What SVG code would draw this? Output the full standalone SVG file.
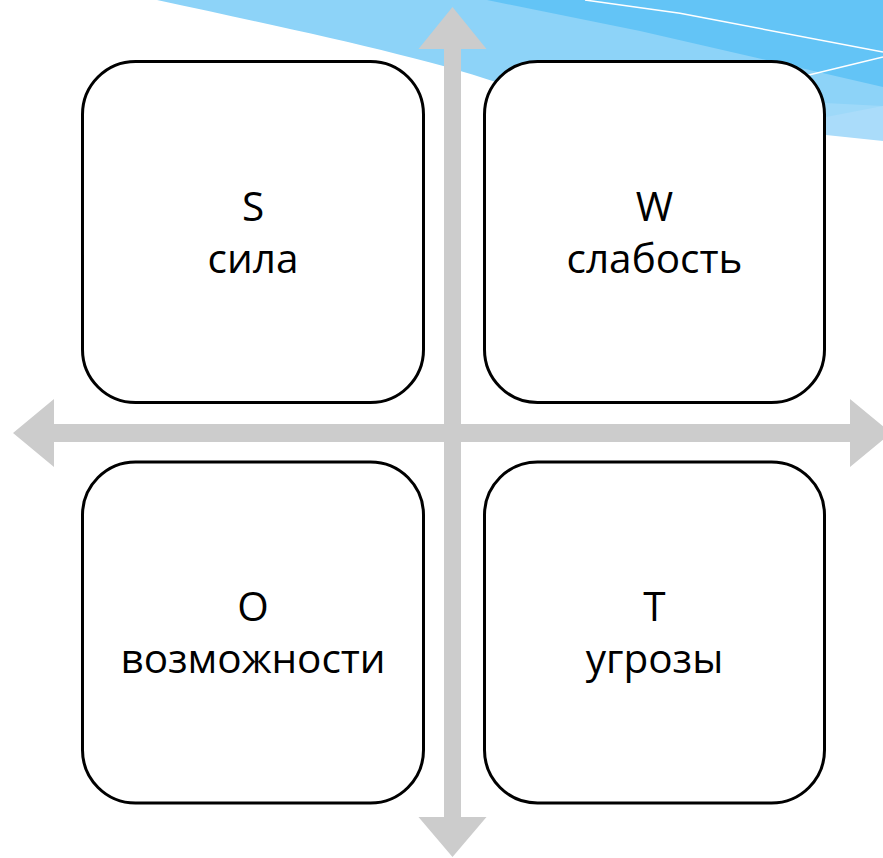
<svg xmlns="http://www.w3.org/2000/svg" width="883" height="858" viewBox="0 0 883 858">
<style>
.box{fill:#ffffff;stroke:#000000;stroke-width:3}
.lbl{font-family:"Open Sans","Noto Sans","DejaVu Sans",sans-serif;font-size:40.5px;fill:#000000;text-anchor:middle}
.arrow{fill:#cccccc}
.wl{fill:none;stroke:#ffffff;stroke-width:1.5}
</style>
<g id="background">
<path d="M700,0 L883,0 L883,141 L826,135 L700,110 Z" fill="#aadcfa"/>
<path d="M600,0 L883,0 L883,106 L826,117 L700,110 Z" fill="#9ed9f9"/>
<path d="M157,0 C300,31 430,58 510,87 L883,106 L883,0 Z" fill="#8dd3f8"/>
<path d="M487,0 L640,31 L883,87 L883,0 Z" fill="#63c4f6"/>
<path class="wl" d="M585,0 L680,13.3 L883,52"/>
<path class="wl" d="M780,82 L883,57"/>
</g>
<g id="connectors">
<path class="arrow" d="M452.5,7 L486.5,49 L461,49 L461,817 L486.5,817 L452.5,857 L418.5,817 L444,817 L444,49 L418.5,49 Z"/>
<path class="arrow" d="M13,433 L54,399 L54,424 L850,424 L850,399 L891,433 L850,467 L850,442 L54,442 L54,467 Z"/>
</g>
<g id="node-s">
<rect class="box" x="82.5" y="61.5" width="341" height="341" rx="53"/>
<text class="lbl" x="253" y="221">S</text>
<text class="lbl" x="253" y="273">сила</text>
</g>
<g id="node-w">
<rect class="box" x="484.5" y="61.5" width="340" height="341" rx="53"/>
<text class="lbl" x="654.5" y="221">W</text>
<text class="lbl" x="654.5" y="273">слабость</text>
</g>
<g id="node-o">
<rect class="box" x="82.5" y="462" width="341" height="341" rx="53"/>
<text class="lbl" x="253" y="621">O</text>
<text class="lbl" x="253" y="673">возможности</text>
</g>
<g id="node-t">
<rect class="box" x="484.5" y="462" width="340" height="341" rx="53"/>
<text class="lbl" x="654.5" y="621">T</text>
<text class="lbl" x="654.5" y="673">угрозы</text>
</g>
</svg>
